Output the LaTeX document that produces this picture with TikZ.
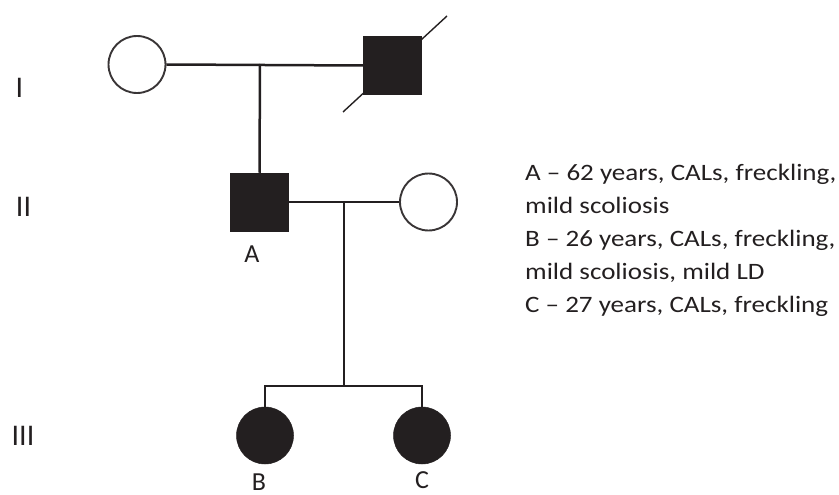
\documentclass[tikz,border=0pt]{standalone}
\usepackage{fontspec}
\setmainfont{Carlito}
\newfontfamily\infofont{Carlito}[FakeStretch=1.15]
\definecolor{ink}{HTML}{231F20}
\begin{document}
\begin{tikzpicture}[x=1pt,y=-1pt,
  lw/.style={line width=2.5pt,draw=ink},
  female/.style={circle,draw=ink!90,line width=1.9pt,minimum size=57pt,inner sep=0pt},
  male/.style={rectangle,minimum size=58pt,inner sep=0pt},
  aff/.style={fill=ink,draw=ink,line width=0.5pt},
  lab/.style={font=\fontsize{26}{32}\selectfont,text=ink,inner sep=0pt},
  gen/.style={font=\fontsize{30}{36}\selectfont,text=ink,inner sep=0pt},
  info/.style={font=\infofont\fontsize{23.5}{33}\selectfont,text=ink,inner sep=0pt,anchor=base west},
  ]
\useasboundingbox (0,0) rectangle (839,495);
% Generation labels
\node[gen] (gI) at (19.5,88) {I};
\node[gen] (gII) at (23.5,206.5) {II};
\node[gen] (gIII) at (23,435.5) {III};
% Gen I
\node[female] (i1) at (137,64.5) {};
\node[male,aff] (i2) at (392.5,65.5) {};
\coordinate (d1a) at (343,112);
\coordinate (d1b) at (447,16);
\draw[line width=1.4pt,ink] (d1a) -- (d1b);
\draw[lw] (i1.east) -- (i2.west);
\coordinate (m1) at (260,64);
% Gen II
\node[male,aff] (ii1) at (259.5,202) {};
\node[female] (ii2) at (428.5,202) {};
\draw[lw] (m1) -- (ii1.north);
\draw[lw] (ii1.east) -- (ii2.west);
\coordinate (m2) at (344,202);
\node[lab,anchor=base] (la) at (252,262) {A};
% Gen III
\node[female,aff,line width=0.5pt] (iii1) at (265,435.5) {};
\node[female,aff,line width=0.5pt] (iii2) at (422,435.5) {};
\coordinate (s) at (344,386);
\draw[lw] (m2) -- (s);
\draw[lw] (iii1.north) |- (s) -| (iii2.north);
\node[lab,anchor=base] (lb) at (259,490) {B};
\node[lab,anchor=base] (lc) at (422,488.5) {C};
% Text
\node[info] (t1) at (525,180) {A – 62 years, CALs, freckling,};
\node[info] (t2) at (525,213) {mild scoliosis};
\node[info] (t3) at (525,246) {B – 26 years, CALs, freckling,};
\node[info] (t4) at (525,279) {mild scoliosis, mild LD};
\node[info] (t5) at (525,312) {C – 27 years, CALs, freckling};
\end{tikzpicture}
\end{document}
